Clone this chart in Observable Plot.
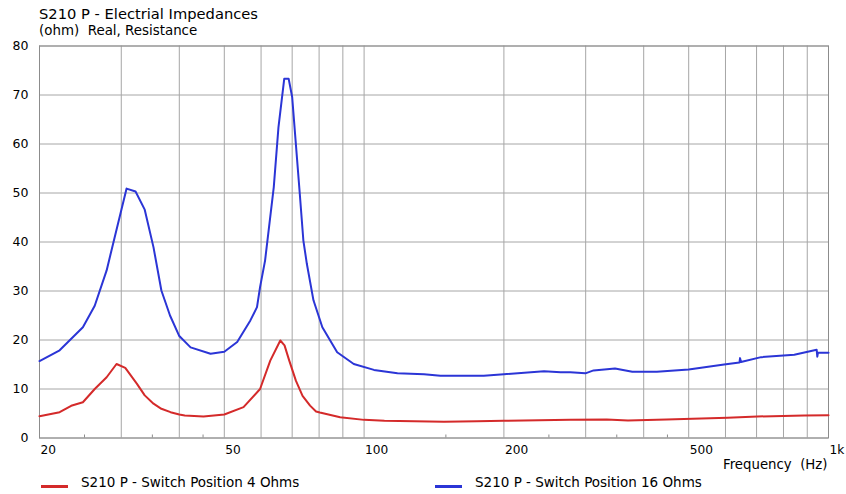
<!DOCTYPE html>
<html>
<head>
<meta charset="utf-8">
<script src="https://cdn.jsdelivr.net/npm/d3@7"></script>
<script src="https://cdn.jsdelivr.net/npm/@observablehq/plot@0.6"></script>
<style>
  body { margin: 0; background: #fff; font-family: "DejaVu Sans", sans-serif; color: #000; }
  #wrap { position: relative; width: 846px; height: 494px; overflow: hidden; }
  #head { position: relative; height: 38px; }
  #title { position: absolute; left: 39px; top: 7px; font-size: 14.7px; line-height: 1; white-space: pre; }
  #subtitle { position: absolute; left: 39px; top: 23.5px; font-size: 13.4px; line-height: 1; white-space: pre; }
  #chart svg { display: block; }
  #legend { position: relative; height: 21px; }
  .sw { position: absolute; top: 11.5px; width: 27px; height: 3px; }
  .lt { position: absolute; top: 3.2px; font-size: 13.5px; line-height: 1; white-space: pre; }
</style>
</head>
<body>
<div id="wrap">
  <div id="head">
    <div id="title">S210 P - Electrial Impedances</div>
    <div id="subtitle">(ohm)  Real, Resistance</div>
  </div>
  <div id="chart"></div>
  <div id="legend">
    <div class="sw" style="left:41px;background:#d42a2a"></div>
    <div class="lt" style="left:81px">S210 P - Switch Position 4 Ohms</div>
    <div class="sw" style="left:435px;background:#2b35d6"></div>
    <div class="lt" style="left:475px">S210 P - Switch Position 16 Ohms</div>
  </div>
</div>
<script>
// ---- data ----
const seriesNames = ["S210 P - Switch Position 4 Ohms", "S210 P - Switch Position 16 Ohms"];
const freq4 = [20, 22.1, 23.4, 24.8, 26.3, 27.9, 29.3, 30.6, 32.4, 33.7, 35.2, 36.6, 38.3, 40, 41.1, 45.1, 50, 55, 59.7, 62.8, 66, 67.4, 69, 71.3, 73.7, 76.5, 78.8, 80.3, 88.8, 100, 110.6, 148.6, 175, 200, 278, 333, 370, 448, 606, 703, 886, 1000];
const ohm4  = [4.45, 5.27, 6.57, 7.3, 10.0, 12.4, 15.1, 14.3, 11.1, 8.7, 7.0, 5.96, 5.27, 4.8, 4.6, 4.39, 4.8, 6.3, 10.0, 15.8, 19.9, 18.9, 15.8, 11.7, 8.6, 6.6, 5.4, 5.2, 4.25, 3.7, 3.5, 3.3, 3.43, 3.5, 3.7, 3.78, 3.57, 3.78, 4.12, 4.39, 4.6, 4.65];
const freq16 = [20, 22.1, 24.8, 26.3, 27.9, 28.8, 30.8, 32.2, 33.7, 35.2, 36.6, 38.2, 40, 42.3, 46.7, 50, 53.3, 56.9, 58.8, 59.7, 61.2, 63.9, 65.4, 67.3, 68.8, 70.0, 71.2, 72.7, 74.0, 75.3, 77.8, 81.3, 87.5, 95, 105, 118, 134.6, 146, 181, 200, 244, 265, 278, 299.6, 312, 347, 378, 427, 500, 596, 643, 645, 648, 716, 844, 943, 946, 949, 1000];
const ohm16  = [15.7, 17.9, 22.6, 27.0, 34.2, 39.6, 50.9, 50.3, 46.6, 38.9, 30.1, 25.0, 20.8, 18.5, 17.2, 17.6, 19.6, 24.0, 26.7, 30.8, 36.2, 51.2, 63.4, 73.3, 73.3, 69.6, 60.7, 49.8, 40.3, 35.5, 28.1, 22.6, 17.5, 15.1, 13.9, 13.2, 13.0, 12.7, 12.7, 13.0, 13.6, 13.4, 13.4, 13.2, 13.8, 14.2, 13.5, 13.5, 14.0, 15.0, 15.4, 16.3, 15.5, 16.5, 17.0, 18.0, 16.6, 17.4, 17.4];
const xTickValues = [20, 50, 100, 200, 500, 1000];
const xTickLabels = ["20", "50", "100", "200", "500", "1k"];
const xGridValues = [20, 30, 40, 50, 60, 70, 80, 90, 100, 200, 300, 400, 500, 600, 700, 800, 900, 1000];
const xMinorTicks = [25, 35, 45, 150, 250, 350, 450];
const yTickValues = [0, 10, 20, 30, 40, 50, 60, 70, 80];
const xAxisTitle = "Frequency\u00a0\u00a0(Hz)";
const colors = ["#d42a2a", "#2b35d6"];

const rows4 = freq4.map((f, i) => ({f, v: ohm4[i]}));
const rows16 = freq16.map((f, i) => ({f, v: ohm16[i]}));
const labelOf = new Map(xTickValues.map((v, i) => [v, xTickLabels[i]]));

const chart = Plot.plot({
  width: 846,
  height: 435,
  marginTop: 7.5,
  marginBottom: 35.5,
  marginLeft: 39,
  marginRight: 18,
  style: {fontFamily: "DejaVu Sans, sans-serif", fontSize: "12px", color: "#000", background: "#fff", overflow: "visible"},
  x: {type: "log", domain: [20, 1000]},
  y: {domain: [0, 80]},
  marks: [
    Plot.gridX(xGridValues, {stroke: "#a6a6a6", strokeOpacity: 1}),
    Plot.gridY(yTickValues, {stroke: "#a6a6a6", strokeOpacity: 1}),
    Plot.frame({stroke: "#8c8c8c"}),
    Plot.axisY({ticks: yTickValues, tickSize: 0, tickPadding: 11, fontSize: 12.5, label: null}),
    Plot.axisX({ticks: xTickValues, tickSize: 0, tickPadding: 7.5, textAnchor: "start", dx: 1, fontSize: 12.2, tickFormat: d => labelOf.get(d), label: null}),
    Plot.axisX({ticks: xMinorTicks, tickSize: 3, dy: -3, tickFormat: () => "", label: null, stroke: "#8c8c8c"}),
    Plot.line(rows4, {x: "f", y: "v", stroke: colors[0], strokeWidth: 2}),
    Plot.line(rows16, {x: "f", y: "v", stroke: colors[1], strokeWidth: 2}),
    Plot.text([xAxisTitle], {frameAnchor: "bottom-right", dy: 30.5, dx: -1, textAnchor: "end", fontSize: 13.3})
  ]
});
document.getElementById("chart").appendChild(chart);
</script>
</body>
</html>
